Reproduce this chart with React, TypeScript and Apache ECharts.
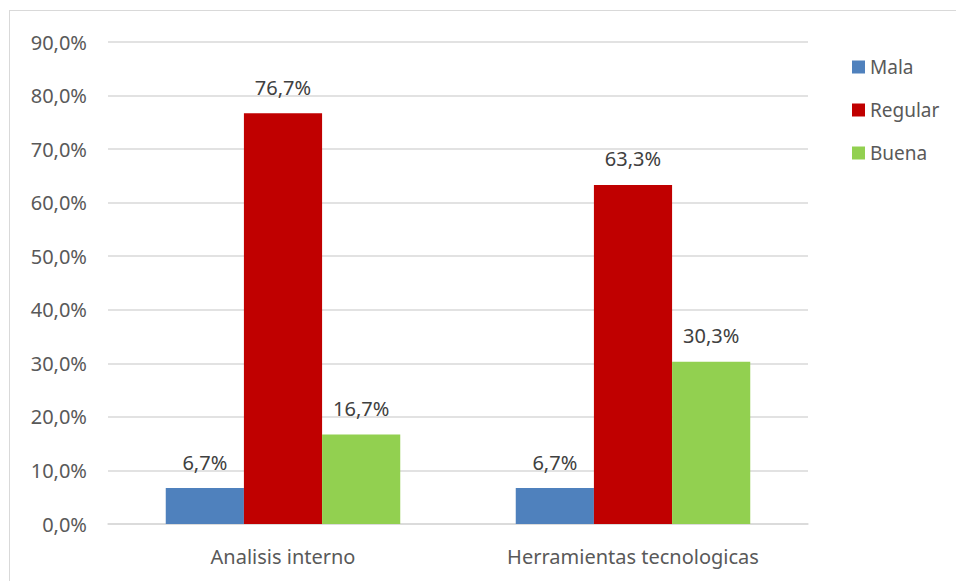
import React, { useEffect, useRef } from "react";
import * as echarts from "echarts";

const categories = ["Analisis interno", "Herramientas tecnologicas"];
const seriesNames = ["Mala", "Regular", "Buena"];
const mala = [6.7, 6.7];
const regular = [76.7, 63.3];
const buena = [16.7, 30.3];
const colors = ["#4f81bd", "#c00000", "#92d050"];

const fmt = (v: number) => v.toFixed(1).replace(".", ",") + "%";

export default function App() {
  const ref = useRef<HTMLDivElement>(null);
  useEffect(() => {
    if (!ref.current) return;
    const chart = echarts.init(ref.current, undefined, { renderer: "svg" });
    const font = "'Noto Sans', 'Open Sans', sans-serif";
    const mk = (name: string, data: number[], color: string) => ({
      name,
      type: "bar",
      data,
      barGap: "0%",
      barCategoryGap: "33%",
      itemStyle: { color },
      label: {
        show: true,
        position: "top",
        distance: 16,
        formatter: (p: any) => fmt(p.value),
        color: "#404040",
        fontSize: 20,
        fontFamily: font,
      },
    });
    chart.setOption({
      animation: false,
      textStyle: { fontFamily: font },
      grid: { left: 108, right: 148, top: 42, bottom: 57 },
      legend: {
        orient: "vertical",
        left: 847,
        top: 52,
        itemWidth: 13,
        itemHeight: 13,
        itemGap: 23,
        icon: "rect",
        textStyle: { color: "#595959", fontSize: 19, lineHeight: 20, fontFamily: font },
        data: seriesNames,
      },
      xAxis: {
        type: "category",
        data: categories,
        axisLine: { lineStyle: { color: "#d9d9d9", width: 1.5 } },
        axisTick: { show: false },
        axisLabel: { color: "#595959", fontSize: 20, margin: 22, fontFamily: font },
      },
      yAxis: {
        type: "value",
        min: 0,
        max: 90,
        interval: 10,
        axisLine: { show: false },
        axisTick: { show: false },
        splitLine: { lineStyle: { color: "#d9d9d9", width: 1.5 } },
        axisLabel: {
          color: "#595959",
          fontSize: 20,
          margin: 21,
          fontFamily: font,
          formatter: (v: number) => fmt(v),
        },
      },
      series: [
        mk(seriesNames[0], mala, colors[0]),
        mk(seriesNames[1], regular, colors[1]),
        mk(seriesNames[2], buena, colors[2]),
      ],
    });
    return () => chart.dispose();
  }, []);
  return (
    <div style={{ position: "absolute", left: 0, top: 0, width: 956, height: 581, background: "#fff", overflow: "hidden" }}>
      <div
        style={{
          position: "absolute",
          left: 9,
          top: 10,
          width: 1000,
          height: 700,
          border: "1.5px solid #d9d9d9",
        }}
      />
      <div ref={ref} style={{ position: "absolute", left: 0, top: 0, width: 956, height: 581 }} />
    </div>
  );
}
